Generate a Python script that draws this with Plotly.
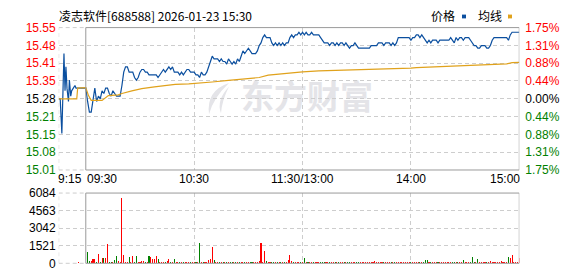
import plotly.graph_objects as go

W, H = 578, 276

# ---------------- data ----------------
stock_title = "凌志软件[688588] 2026-01-23 15:30"
prev_close = 15.28
max_pct = 1.75
price_tick_labels = ["15.01", "15.08", "15.15", "15.21", "15.28", "15.35", "15.41", "15.48", "15.55"]
pct_tick_labels = ["1.75%", "1.31%", "0.88%", "0.44%", "0.00%", "0.44%", "0.88%", "1.31%", "1.75%"]
volume_max = 6084
volume_tick_labels = ["0", "1521", "3042", "4563", "6084"]
time_tick_clock = ["09:15", "09:30", "10:30", "11:30", "14:00", "15:00"]
time_tick_labels = ["9:15", "09:30", "10:30", "11:30/13:00", "14:00", "15:00"]
legend_labels = ["价格", "均线"]
watermark_text = "东方财富"

# call auction (pre-market) indicative prices
pre_times = ["09:15:00", "09:15:50", "09:16:45", "09:17:55", "09:18:30", "09:19:00", "09:19:35",
             "09:20:25", "09:20:55", "09:21:40", "09:22:10", "09:23:05", "09:24:00", "09:24:35", "09:25:00"]
pre_prices = [15.28, 15.28, 15.15, 15.45, 15.31, 15.40, 15.32,
              15.27, 15.35, 15.29, 15.31, 15.32, 15.33, 15.32, 15.32]
pre_volume_times = ["09:26"]
pre_volumes = [82]

# one price per trading minute, 09:30 .. 11:30, 13:01 .. 15:00
session_prices = [
    15.32, 15.27, 15.23, 15.23, 15.27, 15.32, 15.27, 15.29, 15.28, 15.31,
    15.30, 15.32, 15.32, 15.30, 15.29, 15.31, 15.30, 15.29, 15.29, 15.29,
    15.33, 15.38, 15.40, 15.40, 15.38, 15.38, 15.38, 15.36, 15.35, 15.36,
    15.38, 15.39, 15.39, 15.38, 15.38, 15.37, 15.37, 15.37, 15.37, 15.37,
    15.36, 15.37, 15.38, 15.39, 15.38, 15.39, 15.40, 15.39, 15.40, 15.38,
    15.38, 15.38, 15.37, 15.38, 15.37, 15.38, 15.39, 15.39, 15.38, 15.38,
    15.38, 15.37, 15.37, 15.36, 15.38, 15.37, 15.37, 15.38, 15.40, 15.42,
    15.44, 15.43, 15.43, 15.43, 15.42, 15.43, 15.42, 15.42, 15.41, 15.43,
    15.42, 15.41, 15.42, 15.41, 15.43, 15.42, 15.44, 15.46, 15.45, 15.46,
    15.47, 15.46, 15.45, 15.45, 15.45, 15.46, 15.48, 15.49, 15.51, 15.52,
    15.51, 15.51, 15.51, 15.49, 15.48, 15.49, 15.48, 15.49, 15.48, 15.49,
    15.48, 15.49, 15.49, 15.51, 15.52, 15.51, 15.52, 15.52, 15.53, 15.52,
    15.53, 15.52, 15.53, 15.52, 15.52, 15.53, 15.52, 15.52, 15.52, 15.52,
    15.51, 15.50, 15.49, 15.49, 15.49, 15.48, 15.49, 15.49, 15.48, 15.49,
    15.48, 15.49, 15.49, 15.48, 15.49, 15.48, 15.47, 15.48, 15.48, 15.49,
    15.48, 15.47, 15.47, 15.47, 15.47, 15.47, 15.47, 15.47, 15.48, 15.48,
    15.48, 15.48, 15.49, 15.49, 15.49, 15.48, 15.49, 15.49, 15.49, 15.48,
    15.49, 15.48, 15.49, 15.51, 15.51, 15.51, 15.51, 15.51, 15.51, 15.51,
    15.50, 15.51, 15.51, 15.52, 15.52, 15.51, 15.52, 15.51, 15.50, 15.49,
    15.50, 15.49, 15.50, 15.50, 15.50, 15.49, 15.50, 15.50, 15.50, 15.50,
    15.50, 15.50, 15.51, 15.50, 15.49, 15.51, 15.50, 15.51, 15.51, 15.50,
    15.51, 15.51, 15.51, 15.50, 15.49, 15.48, 15.48, 15.47, 15.47, 15.48,
    15.48, 15.48, 15.47, 15.47, 15.48, 15.50, 15.51, 15.51, 15.51, 15.51,
    15.51, 15.51, 15.51, 15.51, 15.50, 15.52, 15.53, 15.53, 15.53, 15.53,
    15.53,
]

session_volumes = [
    0, 1014, 190, 190, 360, 360, 140, 822, 140, 490,
    490, 490, 1644, 80, 80, 140, 275, 600, 190, 110,
    5617, 685, 140, 140, 520, 140, 600, 140, 660, 140,
    80, 190, 190, 80, 90, 600, 520, 360, 410, 600,
    410, 140, 110, 90, 100, 190, 410, 140, 90, 330,
    100, 80, 120, 90, 110, 80, 100, 90, 120, 80,
    90, 110, 80, 1726, 140, 90, 120, 100, 250, 410,
    1370, 250, 80, 90, 80, 70, 90, 80, 90, 70,
    90, 80, 100, 90, 80, 90, 120, 90, 140, 110,
    100, 90, 80, 110, 90, 120, 160, 1781, 90, 1069,
    220, 90, 80, 100, 90, 80, 90, 70, 80, 110,
    90, 120, 280, 740, 160, 100, 90, 120, 80, 110,
    90, 493, 80, 70, 90, 80, 70, 90, 80, 70,
    80, 90, 70, 80, 70, 90, 70, 80, 70, 80,
    70, 80, 90, 70, 80, 70, 80, 70, 80, 70,
    80, 70, 90, 80, 70, 80, 70, 80, 70, 80,
    190, 80, 70, 80, 70, 80, 70, 80, 70, 80,
    70, 80, 70, 90, 70, 80, 70, 80, 70, 90,
    80, 70, 80, 70, 80, 70, 80, 70, 329, 250,
    80, 70, 80, 70, 80, 70, 80, 70, 80, 70,
    80, 70, 80, 90, 70, 80, 70, 80, 70, 329,
    80, 90, 80, 70, 575, 80, 90, 411, 80, 70,
    80, 90, 80, 70, 160, 90, 80, 70, 90, 80,
    160, 80, 90, 70, 575, 493, 740, 90, 80, 90,
    493,
]

avg_times = ["09:15", "09:25", "09:25:30", "09:30", "09:31:30", "09:33", "09:39", "09:41", "09:42:30",
             "09:48", "09:50", "09:55:30", "10:01", "10:08", "10:14", "10:19:30", "10:27", "10:36",
             "10:40", "10:49", "10:58", "11:06", "11:11", "11:19", "11:30", "13:09", "13:20", "13:35",
             "13:40", "13:49", "14:00", "14:03", "14:15", "14:31", "14:40", "14:53", "14:56", "15:00"]
avg_prices = [15.280, 15.280, 15.320, 15.322, 15.292, 15.274, 15.274, 15.286, 15.292,
              15.295, 15.300, 15.310, 15.318, 15.325, 15.330, 15.334, 15.336, 15.339,
              15.343, 15.349, 15.354, 15.360, 15.369, 15.375, 15.381, 15.385, 15.387, 15.388,
              15.389, 15.393, 15.395, 15.397, 15.401, 15.405, 15.409, 15.411, 15.416, 15.417]

# ---------------- helpers ----------------
def clock_to_index(t):
    parts = [int(v) for v in t.split(":")]
    while len(parts) < 3:
        parts.append(0)
    mins = parts[0] * 60 + parts[1] + parts[2] / 60.0
    if mins <= 11 * 60 + 30:
        return mins - (9 * 60 + 30)
    return 120 + mins - 13 * 60


session_times = [f"{m // 60:02d}:{m % 60:02d}" for m in range(9 * 60 + 30, 11 * 60 + 31)]
session_times += [f"{m // 60:02d}:{m % 60:02d}" for m in range(13 * 60 + 1, 15 * 60 + 1)]

RED = "#ff0000"
GREEN = "#008000"
BLUE = "#0b4f9f"
ORANGE = "#e0a21c"
GRID = "#cdcdcd"
FRAME = "#9a9a9a"
DASH = "4px,3px"
FONT = "Liberation Sans, Arial, sans-serif"
CJK = "Noto Sans CJK SC, sans-serif"


def px_x(x):
    return x / W


def px_y(y):
    return 1 - y / H


x_dom = [px_x(58.7), px_x(519.3)]
price_dom = [px_y(171.7), px_y(21.7)]
vol_dom = [px_y(270.0), px_y(196.0)]

n_ticks = len(price_tick_labels)
half = (n_ticks - 1) // 2
price_tick_vals = [prev_close * (1 + max_pct / 100.0 * (k - half) / half) for k in range(n_ticks)]
price_range = [price_tick_vals[0], price_tick_vals[-1]]


def tick_color(k):
    if k > half:
        return RED
    if k < half:
        return GREEN
    return "#000000"


price_ticktext = [f'<span style="color:{tick_color(k)}">{t}</span>' for k, t in enumerate(price_tick_labels)]
pct_ticktext = [f'<span style="color:{tick_color(n_ticks - 1 - k)}">{t}</span>'
                for k, t in enumerate(pct_tick_labels)]
pct_ticktext = pct_ticktext[::-1]

vol_tick_vals = [volume_max * k / (len(volume_tick_labels) - 1) for k in range(len(volume_tick_labels))]

# ---------------- traces ----------------
price_x = [clock_to_index(t) for t in pre_times] + [clock_to_index(t) for t in session_times]
price_y = pre_prices + session_prices

bar_colors = []
for i, p in enumerate(session_prices):
    prev = session_prices[i - 1] if i > 0 else pre_prices[-1]
    bar_colors.append(RED if p >= prev else GREEN)

fig = go.Figure()

fig.add_trace(go.Scatter(
    x=[clock_to_index(t) for t in avg_times], y=avg_prices, mode="lines",
    line=dict(color=ORANGE, width=1.2), xaxis="x", yaxis="y2", hoverinfo="skip", showlegend=False))
fig.add_trace(go.Scatter(
    x=price_x, y=price_y, mode="lines",
    line=dict(color=BLUE, width=1.2), xaxis="x", yaxis="y", hoverinfo="skip", showlegend=False))

fig.add_trace(go.Bar(
    x=[clock_to_index(t) for t in pre_volume_times], y=pre_volumes,
    marker=dict(color=RED, line=dict(width=0)), width=0.6,
    xaxis="x2", yaxis="y3", hoverinfo="skip", showlegend=False))
fig.add_trace(go.Bar(
    x=[clock_to_index(t) for t in session_times], y=session_volumes,
    marker=dict(color=bar_colors, line=dict(width=0)), width=0.6,
    xaxis="x2", yaxis="y3", hoverinfo="skip", showlegend=False))

grid_x_vals = [clock_to_index(t) for t in ["09:15", "10:30", "11:30", "14:00"]]
x_range = [clock_to_index("09:15"), clock_to_index("15:00")]

common_x = dict(domain=x_dom, range=x_range, tickmode="array", tickvals=grid_x_vals,
                showticklabels=False, ticks="", showgrid=True, gridcolor=GRID, griddash=DASH,
                gridwidth=1, zeroline=False, showline=False, fixedrange=True)

fig.update_layout(
    width=W, height=H, margin=dict(l=0, r=0, t=0, b=0),
    paper_bgcolor="white", plot_bgcolor="white",
    bargap=0, showlegend=False,
    font=dict(family=FONT, size=12, color="#000000"),
    xaxis=dict(anchor="y", **common_x),
    xaxis2=dict(anchor="y3", **common_x),
    yaxis=dict(domain=price_dom, range=price_range, tickmode="array", tickvals=price_tick_vals,
               ticktext=price_ticktext, ticks="", ticklen=0, showgrid=True, gridcolor=GRID,
               griddash=DASH, zeroline=False, showline=False, fixedrange=True,
               tickfont=dict(family=FONT, size=12), anchor="x", side="left", ticklabelstandoff=2),
    yaxis2=dict(overlaying="y", side="right", anchor="x", range=price_range, tickmode="array",
                tickvals=price_tick_vals, ticktext=pct_ticktext, ticks="", showgrid=False,
                zeroline=False, showline=False, fixedrange=True,
                tickfont=dict(family=FONT, size=12), ticklabelstandoff=5),
    yaxis3=dict(domain=vol_dom, range=[0, volume_max], tickmode="array", tickvals=vol_tick_vals,
                ticktext=volume_tick_labels, ticks="", showgrid=True, gridcolor=GRID,
                griddash=DASH, zeroline=False, showline=False, fixedrange=True,
                tickfont=dict(family=FONT, size=12, color="#000000"), anchor="x2", ticklabelstandoff=2),
)

# dashed edge lines of the pre-market part (plotly omits grid lines on the plot edges)
x_start = clock_to_index("09:15")
for xr, yr in [("x", "y domain"), ("x2", "y3 domain")]:
    fig.add_shape(type="line", xref=xr, yref=yr, x0=x_start, x1=x_start, y0=0, y1=1,
                  line=dict(color=GRID, width=1, dash=DASH), layer="below")
    for yy in (0, 1):
        fig.add_shape(type="line", xref=xr, yref=yr, x0=x_start, x1=clock_to_index("09:30"),
                      y0=yy, y1=yy, line=dict(color=GRID, width=1, dash=DASH), layer="below")

# solid session frames (09:30 - 15:00)
x0s, x1s = clock_to_index("09:30"), clock_to_index("15:00")
fig.add_shape(type="rect", xref="x", yref="y domain", x0=x0s, x1=x1s, y0=0, y1=1,
              line=dict(color=FRAME, width=1), fillcolor="rgba(0,0,0,0)", layer="above")
fig.add_shape(type="rect", xref="x2", yref="y3 domain", x0=x0s, x1=x1s, y0=0, y1=1,
              line=dict(color=FRAME, width=1), fillcolor="rgba(0,0,0,0)", layer="above")

# watermark
fig.add_shape(type="rect", xref="paper", yref="paper",
              x0=px_x(234), x1=px_x(380), y0=px_y(117), y1=px_y(79),
              line=dict(width=0), fillcolor="rgba(0,0,0,0)", layer="below",
              label=dict(text=f"<b>{watermark_text}</b>", textposition="middle center",
                         font=dict(family=CJK, size=33, color="#e4e4e8")))


def pt(x, y):
    return f"{px_x(x):.5f},{px_y(y):.5f}"


icon_path = (f"M {pt(229, 80)} Q {pt(206, 88)} {pt(209, 113)} Q {pt(213, 96)} {pt(229, 80)} Z "
             f"M {pt(229, 84)} Q {pt(216, 98)} {pt(221, 112)} Q {pt(222, 98)} {pt(229, 84)} Z")
fig.add_shape(type="path", xref="paper", yref="paper", path=icon_path,
              line=dict(width=0), fillcolor="#e4e4e8", layer="below")

# title
fig.add_annotation(text=stock_title, xref="paper", yref="paper", x=px_x(58.7), y=px_y(8.6),
                   xanchor="left", yanchor="middle", showarrow=False, xshift=-1.5,
                   font=dict(family=CJK, size=12, color="#000000"))

# legend
leg_text_x = [431.5, 477.8]
leg_mark_x = [462.0, 508.0]
leg_colors = [BLUE, ORANGE]
for lab, tx, mx, c in zip(legend_labels, leg_text_x, leg_mark_x, leg_colors):
    fig.add_annotation(text=lab, xref="paper", yref="paper", x=px_x(tx), y=px_y(9.3),
                       xanchor="left", yanchor="middle", showarrow=False, xshift=-2,
                       font=dict(family=CJK, size=12, color="#000000"))
    fig.add_shape(type="rect", xref="paper", yref="paper", x0=px_x(mx), x1=px_x(mx + 4),
                  y0=px_y(12), y1=px_y(8), line=dict(width=0), fillcolor=c)

# time axis labels
anchors = ["left", "left", "center", "center", "center", "right"]
shifts = [-3.0, -0.8, 0, 0, 0, 2.5]
for clk, lab, anc, sh in zip(time_tick_clock, time_tick_labels, anchors, shifts):
    fig.add_annotation(text=lab, xref="x", yref="paper", x=clock_to_index(clk), y=px_y(181.5),
                       xanchor=anc, yanchor="middle", showarrow=False, xshift=sh,
                       font=dict(family=FONT, size=12, color="#000000"))

fig.write_html("out.html", config={"displayModeBar": False, "staticPlot": True})
